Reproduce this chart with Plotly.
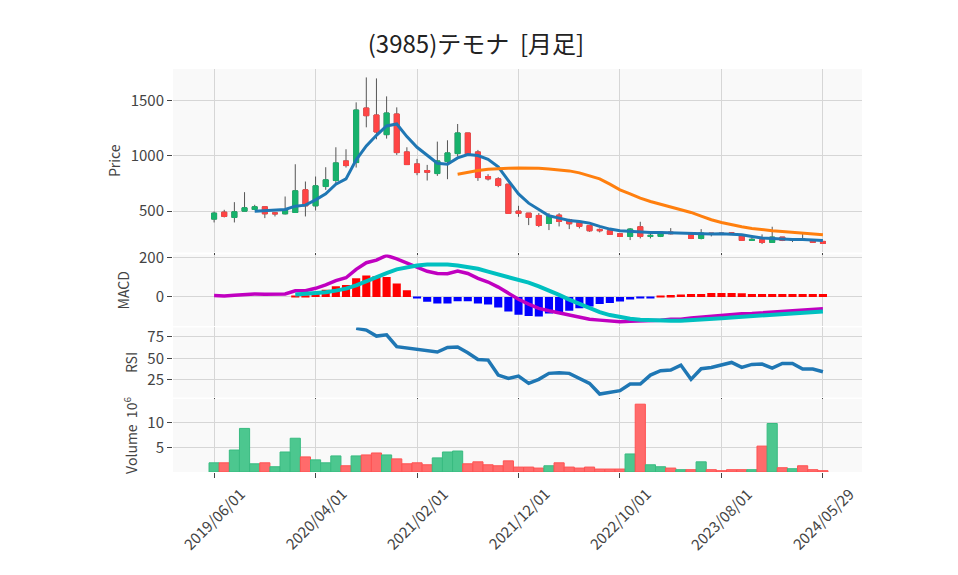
import pandas as pd
import plotly.graph_objects as go
from plotly.subplots import make_subplots

# monthly bars, last one is the current (partial) month
dates = [d.strftime('%Y/%m/%d') for d in pd.date_range('2019-06-01', periods=60, freq='MS')] + ['2024/05/29']

opens = [428, 491, 443, 500, 515, 539, 485, 476, 488, 692,
         548, 722, 776, 953, 938, 1430, 1367, 1190, 1376, 1034,
         926, 866, 839, 947, 1019, 1205, 1034, 812, 791, 743,
         500, 482, 461, 389, 464, 422, 398, 371, 335, 323,
         296, 272, 359, 272, 272, 311, 302, 299, 254, 302,
         302, 305, 287, 236, 242, 218, 266, 239, 248, 239, 227]
highs = [497, 512, 581, 671, 557, 539, 491, 632, 923, 767,
         812, 896, 1076, 1058, 1481, 1706, 1697, 1535, 1436, 1076,
         971, 917, 1127, 1139, 1286, 1205, 1052, 833, 806, 743,
         548, 482, 482, 482, 482, 431, 407, 371, 344, 323,
         296, 347, 404, 305, 320, 347, 311, 299, 338, 302,
         305, 311, 287, 257, 290, 359, 266, 248, 296, 239, 227]
lows = [398, 443, 398, 500, 512, 437, 452, 470, 488, 452,
        506, 692, 737, 893, 893, 1256, 1148, 1154, 1007, 920,
        824, 776, 818, 788, 992, 1016, 773, 776, 716, 479,
        449, 374, 356, 329, 362, 338, 344, 314, 308, 290,
        272, 239, 254, 254, 266, 290, 296, 248, 245, 272,
        293, 290, 236, 236, 203, 218, 230, 221, 242, 218, 209]
closes = [482, 452, 494, 530, 539, 476, 476, 509, 683, 548,
          728, 782, 935, 911, 1412, 1361, 1214, 1385, 1028, 920,
          848, 851, 953, 1025, 1205, 1016, 803, 791, 731, 479,
          479, 443, 371, 452, 407, 386, 362, 323, 323, 290,
          272, 338, 272, 281, 311, 296, 299, 254, 302, 293,
          296, 296, 236, 245, 218, 266, 236, 236, 245, 218, 209]

ma_short = [None] * 4 + [500, 503, 506, 515, 545, 554, 602, 656, 743, 791,
                         962, 1088, 1184, 1268, 1286, 1172, 1076, 1007, 932, 923,
                         980, 1010, 1001, 968, 899, 776, 655, 572, 512, 458,
                         437, 416, 407, 392, 362, 338, 323, 317, 314, 308,
                         308, 305, 302, 296, 293, 293, 296, 293, 287, 272,
                         257, 254, 248, 245, 245, 239, 236]
ma_long = [None] * 24 + [833, 851, 866, 878, 884, 887, 889, 890, 887, 881,
                         875, 863, 845, 821, 791, 743, 692, 656, 617, 587,
                         563, 542, 518, 488, 455, 422, 398, 377, 359, 344,
                         332, 323, 317, 311, 305, 296, 287]

macd = [7, 5, 8, 12, 15, 14, 14, 15, 31, 32,
        44, 61, 83, 98, 141, 175, 188, 212, 195, 173,
        149, 131, 120, 119, 132, 120, 95, 76, 50, 17,
        -12, -37, -59, -71, -81, -92, -103, -114, -119, -124,
        -127, -125, -124, -122, -119, -115, -114, -108, -103, -98,
        -93, -88, -86, -85, -81, -78, -75, -71, -68, -64, -61]
signal = [None] * 8 + [12, 15, 19, 24, 32, 42, 59, 81, 102, 122,
                       141, 153, 161, 166, 168, 166, 161, 154, 144, 129,
                       115, 102, 88, 73, 54, 34, 10, -14, -37, -59,
                       -78, -93, -105, -112, -117, -120, -122, -122, -122, -120,
                       -117, -114, -110, -105, -102, -98, -95, -92, -88, -85,
                       -81, -78, -75]
hist = [None] * 8 + [3, 8, 15, 37, 54, 61, 95, 110, 106, 102,
                     69, 34, -5, -25, -34, -34, -22, -22, -34, -39,
                     -54, -75, -92, -98, -100, -85, -80, -71, -58, -49,
                     -37, -31, -24, -14, -8, -5, 3, 10, 12, 15,
                     15, 20, 20, 20, 19, 15, 15, 15, 15, 15,
                     15, 15, 15]

rsi = [None] * 14 + [85, 83, 76, 77.5, 63.6, 62, 59.7, 59, 57.4, 62.8,
                     63.2, 56.6, 48.8, 48, 30.6, 26.7, 29.5, 21, 25.6, 32.6,
                     33.3, 32.6, 26.7, 21, 8.5, 10, 12.4, 20.2, 20.2, 30.6,
                     35.7, 36.4, 42.2, 25.6, 38, 39.5, 42.2, 45.3, 39.5, 43,
                     43.4, 38.8, 44.2, 44.2, 37.6, 37.6, 34.5]

# volume in millions, plus up/down month flag used for the bar colour
volume = [1.87, 1.87, 4.47, 8.87, 1.67, 1.87, 1.07, 4.07, 6.87, 3.07,
          2.47, 1.87, 3.27, 1.27, 3.27, 3.47, 3.87, 3.47, 2.67, 1.67,
          1.87, 1.47, 2.87, 4.07, 4.27, 1.67, 2.07, 1.47, 1.27, 2.27,
          1.0, 1.0, 0.8, 1.27, 1.87, 1.0, 0.8, 1.0, 0.6, 0.6,
          0.6, 3.67, 13.8, 1.47, 1.07, 0.8, 0.47, 0.47, 2.07, 0.47,
          0.27, 0.47, 0.47, 0.47, 5.27, 9.87, 0.87, 0.67, 1.27, 0.47, 0.27]
vol_up = [1, 0, 1, 1, 1, 0, 1, 1, 1, 0,
          1, 1, 1, 0, 1, 0, 0, 1, 0, 0,
          0, 0, 1, 1, 1, 0, 0, 0, 0, 0,
          0, 0, 0, 1, 0, 0, 0, 0, 0, 0,
          0, 1, 0, 1, 1, 0, 1, 0, 1, 0,
          0, 0, 0, 1, 0, 1, 0, 1, 0, 0, 0]

tick_dates = dates[::10]

UP = '#17b26c'
DOWN = '#ff4545'
GRID = '#d6d6d6'
FONT = 'Noto Sans CJK JP, Noto Sans, sans-serif'

fig = make_subplots(rows=4, cols=1, shared_xaxes=True, vertical_spacing=0.004)

# wicks in grey, then bodies on top
fig.add_trace(go.Candlestick(
    x=dates, open=opens, high=highs, low=lows, close=closes,
    increasing=dict(line=dict(color='#555555', width=1), fillcolor='#555555'),
    decreasing=dict(line=dict(color='#555555', width=1), fillcolor='#555555'),
    showlegend=False, hoverinfo='skip'), row=1, col=1)
fig.add_trace(go.Candlestick(
    x=dates, open=opens, close=closes,
    high=[max(o, c) for o, c in zip(opens, closes)],
    low=[min(o, c) for o, c in zip(opens, closes)],
    increasing=dict(line=dict(color=UP, width=1), fillcolor=UP),
    decreasing=dict(line=dict(color=DOWN, width=1), fillcolor=DOWN),
    showlegend=False), row=1, col=1)
fig.add_trace(go.Scatter(x=dates, y=ma_short, mode='lines',
                         line=dict(color='#1f77b4', width=3), showlegend=False), row=1, col=1)
fig.add_trace(go.Scatter(x=dates, y=ma_long, mode='lines',
                         line=dict(color='#ff7f0e', width=3), showlegend=False), row=1, col=1)

fig.add_trace(go.Bar(x=dates, y=hist, width=0.8,
                     marker=dict(color=['red' if (h or 0) >= 0 else 'blue' for h in hist], line=dict(width=0)),
                     showlegend=False), row=2, col=1)
fig.add_trace(go.Scatter(x=dates, y=macd, mode='lines',
                         line=dict(color='#c000c0', width=3.5), showlegend=False), row=2, col=1)
fig.add_trace(go.Scatter(x=dates, y=signal, mode='lines',
                         line=dict(color='#00c0c0', width=4), showlegend=False), row=2, col=1)

fig.add_trace(go.Scatter(x=dates, y=rsi, mode='lines',
                         line=dict(color='#1f77b4', width=3.5), showlegend=False), row=3, col=1)

fig.add_trace(go.Bar(x=dates, y=volume, width=1,
                     marker=dict(color=['#4cc78f' if u else '#ff6b6b' for u in vol_up],
                                 line=dict(color=['#38bb80' if u else '#ff5252' for u in vol_up], width=1)),
                     showlegend=False), row=4, col=1)

fig.update_xaxes(type='category', range=[-4.05, 63.85], showgrid=True, gridcolor=GRID,
                 tickvals=tick_dates, rangeslider_visible=False,
                 ticks='outside', ticklen=5, tickcolor='#444', showticklabels=False,
                 automargin=False)

# date labels sit centred under their tick, rotated 45 degrees
for d in tick_dates:
    fig.add_annotation(x=d, xref='x4', y=-0.1166, yref='paper', text=d, textangle=-45,
                       showarrow=False, xanchor='center', yanchor='middle',
                       font=dict(size=15, color='#444'))

fig.update_yaxes(showgrid=True, gridcolor=GRID, zeroline=False, ticks='outside',
                 ticklen=5, tickcolor='#444', automargin=False, tickfont=dict(size=15),
                 title_font=dict(size=14), title_standoff=6)
fig.update_layout(
    yaxis=dict(domain=[0.5447, 1.0], range=[127, 1782], tickvals=[500, 1000, 1500], title_text='Price'),
    yaxis2=dict(domain=[0.3623, 0.5397], range=[-149, 217], tickvals=[0, 200], title_text='MACD'),
    yaxis3=dict(domain=[0.1849, 0.3586], range=[4.5, 86], tickvals=[25, 50, 75], title_text='RSI'),
    yaxis4=dict(domain=[0.0, 0.1811], range=[0, 14.85], tickvals=[5, 10], title_text='Volume  10<sup>6</sup>'),
)

fig.update_layout(
    title=dict(text='(3985)テモナ  [月足]', x=0.4885, xanchor='center', y=0.9357, yanchor='middle',
               font=dict(size=24, color='#222')),
    width=958, height=575,
    margin=dict(l=165, r=104, t=61, b=111),
    font=dict(family=FONT, size=15, color='#444'),
    paper_bgcolor='white', plot_bgcolor='#f9f9f9',
    bargap=0.2, showlegend=False,
)

fig.write_html("out.html")
